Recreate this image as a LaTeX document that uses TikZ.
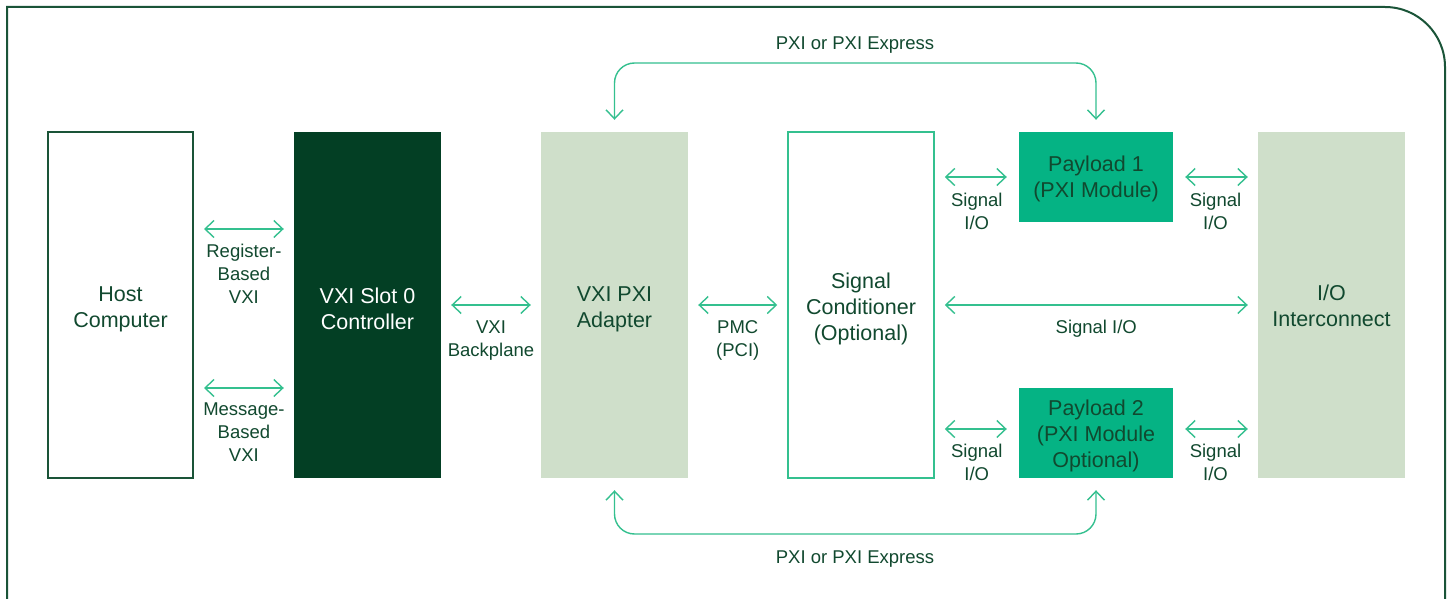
\documentclass[tikz,border=0pt]{standalone}
\usepackage{fontspec}
\setmainfont{Liberation Sans}
\usetikzlibrary{arrows.meta}
\definecolor{forest}{HTML}{033F24}
\definecolor{sage}{HTML}{CFDFCA}
\definecolor{mint}{HTML}{05B384}
\definecolor{wire}{HTML}{34C08F}
\definecolor{ink}{HTML}{11492F}
\definecolor{frame}{HTML}{1A5438}
\begin{document}
\begin{tikzpicture}[x=1pt,y=-1pt,
  bigtext/.style={font=\fontsize{21.5}{26}\selectfont, text=ink, align=center, inner sep=0pt},
  block/.style={rectangle, minimum width=147pt, minimum height=346pt, inner sep=0pt},
  payload/.style={rectangle, fill=mint, minimum width=154pt, minimum height=90pt, inner sep=0pt},
  tip/.tip={Straight Barb[length=9pt,width=17pt]},
  link/.style={draw=wire, line width=1.4pt, tip-tip, shorten <=10pt, shorten >=10pt},
  bus/.style={draw=wire, line width=1.4pt, tip-tip, rounded corners=20pt},
  lbl/.style={font=\fontsize{18.5}{23}\selectfont, text=ink, align=center, inner sep=0pt}
]
\useasboundingbox (0,0) rectangle (1452,599);
\fill[white] (0,0) rectangle (1452,599);

% outer panel, open at the bottom
\draw[frame, line width=2pt] (7,615) -- (7,7) -- (1385,7)
  arc[start angle=-90, end angle=0, radius=60] -- (1445,615);

% blocks
\node[block, draw=frame, line width=2pt, minimum width=145pt] (host) at (120.5,305) {};
\node[block, fill=forest] (slot) at (367.5,305) {};
\node[block, fill=sage] (adapter) at (614.5,305) {};
\node[block, draw=wire, line width=1.5pt, minimum width=146pt] (cond) at (861,305) {};
\node[payload] (p1) at (1096,177) {};
\node[payload] (p2) at (1096,433) {};
\node[block, fill=sage] (io) at (1331.5,305) {};

% block captions
\node[bigtext] (hostcap) at ([yshift=-4pt]host.center) {Host\\Computer};
\node[bigtext, text=white] (slotcap) at ([yshift=-4pt]slot.center) {VXI Slot 0\\Controller};
\node[bigtext] (adaptercap) at ([yshift=-4pt]adapter.center) {VXI PXI\\Adapter};
\node[bigtext] (condcap) at ([yshift=-4pt]cond.center) {Signal\\Conditioner\\(Optional)};
\node[bigtext] (p1cap) at ([yshift=-2pt]p1.center) {Payload 1\\(PXI Module)};
\node[bigtext] (p2cap) at ([yshift=-3pt]p2.center) {Payload 2\\(PXI Module\\Optional)};
\node[bigtext] (iocap) at ([yshift=-1pt]io.center) {I/O\\Interconnect};

% host to slot 0 controller
\draw[link] ([yshift=76pt]host.east) -- ([yshift=76pt]slot.west)
  node[midway, below=14pt, lbl] {Register-\\Based\\VXI};
\draw[link] ([yshift=-83pt]host.east) -- ([yshift=-83pt]slot.west)
  node[midway, below=14.5pt, lbl] {Message-\\Based\\VXI};

% backplane and mezzanine links
\draw[link] (slot.east) -- (adapter.west)
  node[midway, below=15pt, lbl] {VXI\\Backplane};
\draw[link] (adapter.east) -- (cond.west)
  node[midway, below=15pt, lbl] {PMC\\(PCI)};

% signal paths
\draw[link, shorten >=12pt] (cond.east |- p1.west) -- (p1.west)
  node[midway, below=15.5pt, lbl] {Signal\\I/O};
\draw[link, shorten <=12pt] (p1.east) -- (io.west |- p1.east)
  node[midway, below=15.5pt, lbl] {Signal\\I/O};
\draw[link] (cond.east) -- (io.west)
  node[midway, below=14pt, lbl] {Signal I/O};
\draw[link, shorten >=12pt] ([yshift=4pt]cond.east |- p2.west) -- ([yshift=4pt]p2.west)
  node[midway, below=14.5pt, lbl] {Signal\\I/O};
\draw[link, shorten <=12pt] ([yshift=4pt]p2.east) -- ([yshift=4pt]io.west |- p2.east)
  node[midway, below=14.5pt, lbl] {Signal\\I/O};

% PXI buses
\draw[bus] ([yshift=12pt]adapter.north) -- (adapter.north |- 0,63)
  -- (p1.north |- 0,63) -- ([yshift=12pt]p1.north);
\node[lbl] (toplbl) at (855,45) {PXI or PXI Express};
\draw[bus] ([yshift=-12pt]adapter.south) -- (adapter.south |- 0,534)
  -- (p2.south |- 0,534) -- ([yshift=-12pt]p2.south);
\node[lbl] (botlbl) at (855,559) {PXI or PXI Express};
\end{tikzpicture}
\end{document}
